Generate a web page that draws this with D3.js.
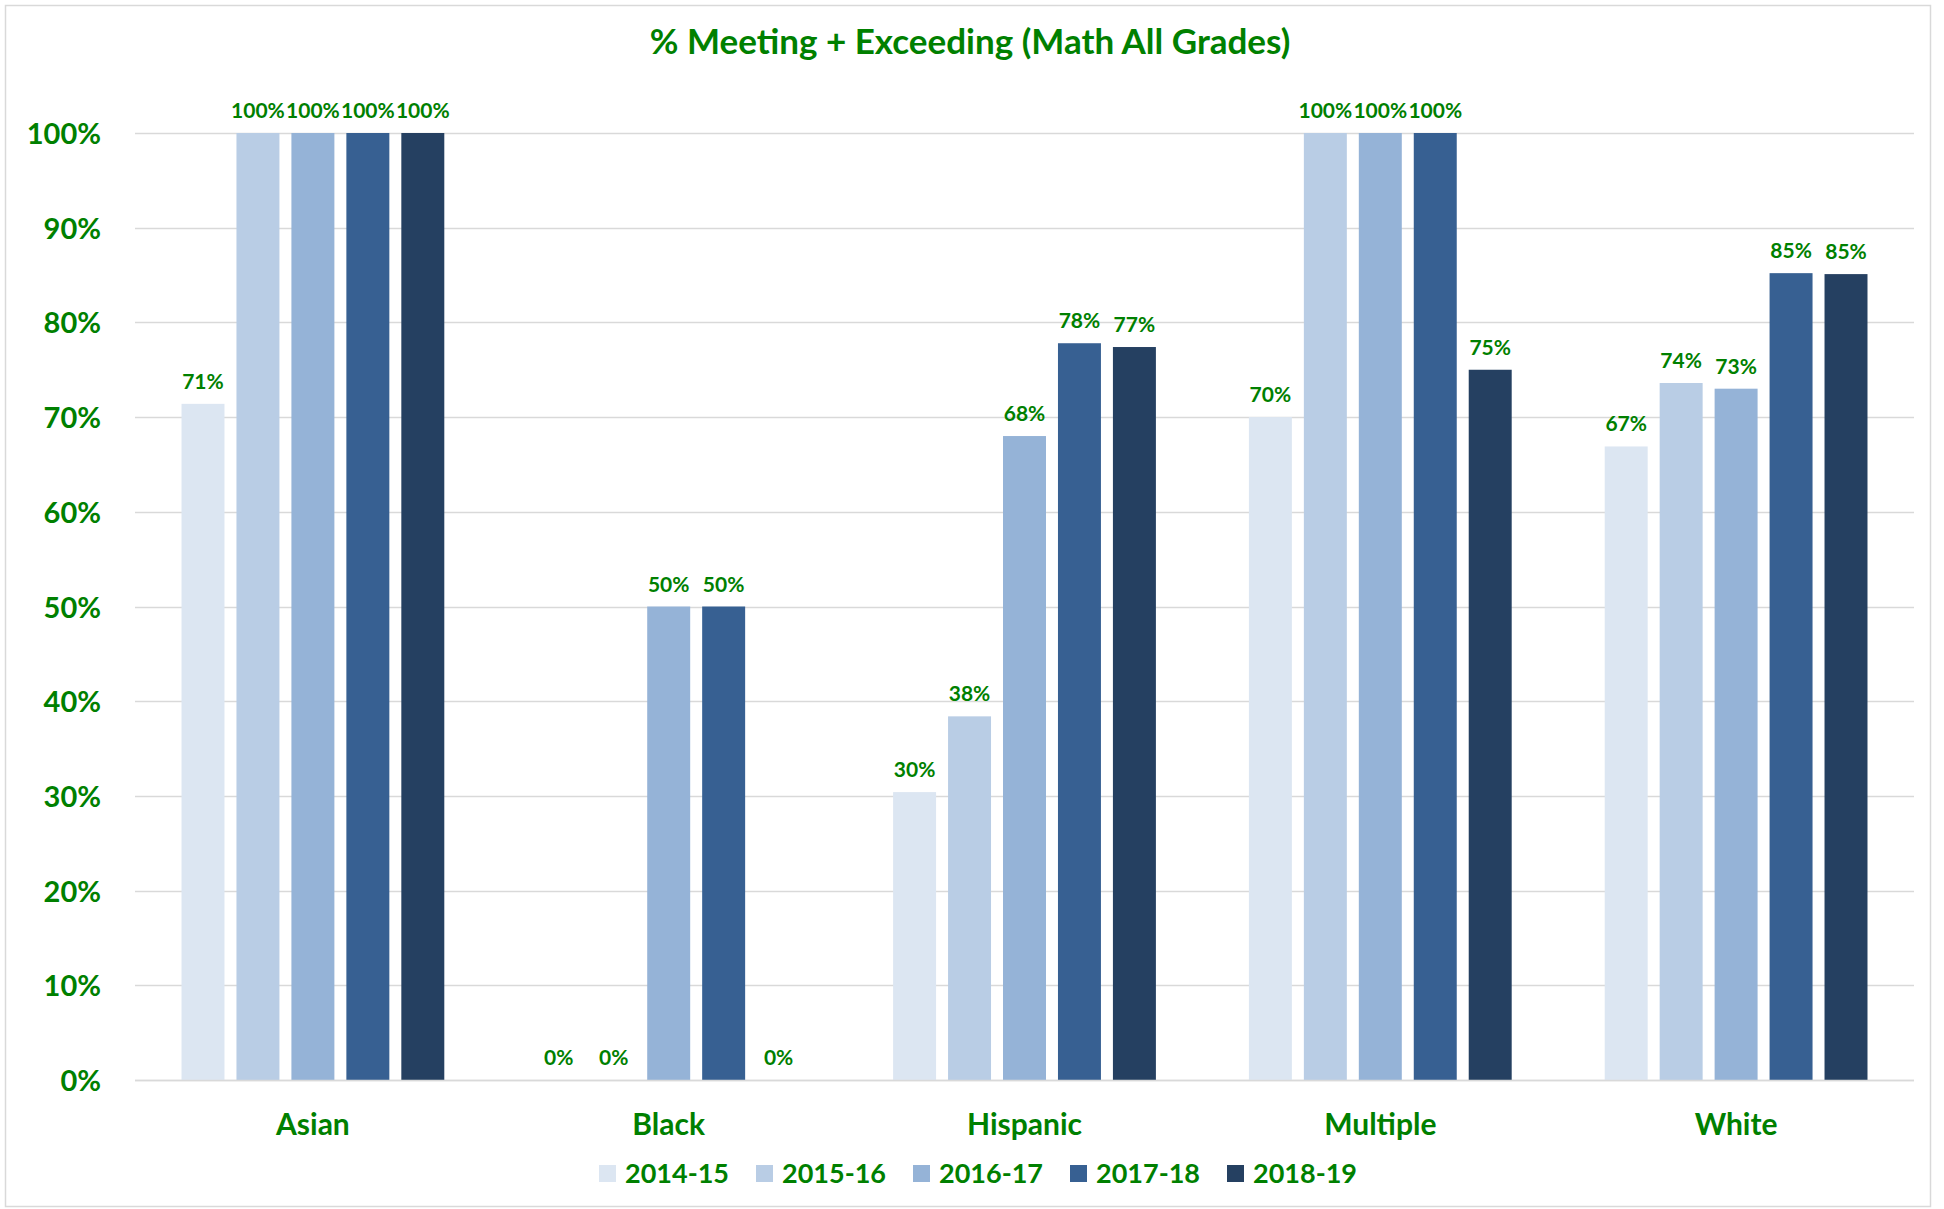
<!DOCTYPE html>
<html>
<head>
<meta charset="utf-8">
<script src="https://cdn.jsdelivr.net/npm/d3@7"></script>
<style>
  html, body { margin: 0; padding: 0; background: #ffffff; }
  svg text { font-family: Lato, "Open Sans", "Noto Sans", sans-serif; font-weight: 700; fill: #008000; }
</style>
</head>
<body>
<svg id="chart" width="1944" height="1209"></svg>
<script>
const title = "% Meeting + Exceeding (Math All Grades)";
const categories = ["Asian", "Black", "Hispanic", "Multiple", "White"];
const seriesNames = ["2014-15", "2015-16", "2016-17", "2017-18", "2018-19"];
const seriesColors = ["#DCE6F2", "#B9CDE5", "#95B3D7", "#376092", "#254061"];
// values per series, in category order
const s2014_15 = [0.714, 0.0, 0.304, 0.70, 0.669];
const s2015_16 = [1.0, 0.0, 0.384, 1.0, 0.736];
const s2016_17 = [1.0, 0.5, 0.68, 1.0, 0.730];
const s2017_18 = [1.0, 0.5, 0.778, 1.0, 0.852];
const s2018_19 = [1.0, 0.0, 0.774, 0.75, 0.851];
const seriesValues = [s2014_15, s2015_16, s2016_17, s2017_18, s2018_19];
const yTicks = [0, 0.1, 0.2, 0.3, 0.4, 0.5, 0.6, 0.7, 0.8, 0.9, 1.0];

const svg = d3.select("#chart");
const plot = { left: 135, right: 1914, top: 133, bottom: 1080 };

// chart border
svg.append("rect")
  .attr("x", 5.5).attr("y", 5.5).attr("width", 1925).attr("height", 1201)
  .attr("fill", "#ffffff").attr("stroke", "#d9d9d9").attr("stroke-width", 1.5);

const x0 = d3.scaleBand().domain(categories).range([plot.left, plot.right]).padding(0);
const outer = x0.bandwidth() * 0.1307;
const x1 = d3.scaleBand().domain(seriesNames)
  .range([outer, x0.bandwidth() - outer]).paddingInner(0.218).paddingOuter(0);
const y = d3.scaleLinear().domain([0, 1]).range([plot.bottom, plot.top]);
const pct = d3.format(".0%");

// gridlines
svg.append("g").selectAll("line").data(yTicks).join("line")
  .attr("x1", plot.left).attr("x2", plot.right)
  .attr("y1", d => Math.round(y(d)) + 0.5).attr("y2", d => Math.round(y(d)) + 0.5)
  .attr("stroke", "#d9d9d9").attr("stroke-width", 1.5);

// y axis labels
svg.append("g").selectAll("text").data(yTicks).join("text")
  .attr("x", 101).attr("y", d => y(d) + 11)
  .attr("text-anchor", "end")
  .style("font-size", "29px")
  .text(d => pct(d));

// bars
const rows = [];
categories.forEach((c, ci) => {
  seriesNames.forEach((s, si) => {
    rows.push({ cat: c, series: s, si: si, value: seriesValues[si][ci] });
  });
});

svg.append("g").selectAll("rect").data(rows).join("rect")
  .attr("x", d => x0(d.cat) + x1(d.series))
  .attr("y", d => y(d.value))
  .attr("width", x1.bandwidth())
  .attr("height", d => y(0) - y(d.value))
  .attr("fill", d => seriesColors[d.si]);

// data labels
svg.append("g").selectAll("text").data(rows).join("text")
  .attr("x", d => x0(d.cat) + x1(d.series) + x1.bandwidth() / 2)
  .attr("y", d => y(d.value) - 15)
  .attr("text-anchor", "middle")
  .style("font-size", "21px")
  .text(d => pct(d.value));

// baseline
svg.append("line")
  .attr("x1", plot.left).attr("x2", plot.right)
  .attr("y1", Math.round(y(0)) + 0.5).attr("y2", Math.round(y(0)) + 0.5)
  .attr("stroke", "#d9d9d9").attr("stroke-width", 1.5);

// category labels
svg.append("g").selectAll("text").data(categories).join("text")
  .attr("x", d => x0(d) + x0.bandwidth() / 2)
  .attr("y", 1135)
  .attr("text-anchor", "middle")
  .style("font-size", "30px")
  .text(d => d);

// title
svg.append("text")
  .attr("x", 970).attr("y", 54)
  .attr("text-anchor", "middle")
  .style("font-size", "35px")
  .text(title);

// legend
const legStep = 157, legX = 599;
const leg = svg.append("g").selectAll("g").data(seriesNames).join("g")
  .attr("transform", (d, i) => `translate(${legX + i * legStep},0)`);
leg.append("rect")
  .attr("x", 0).attr("y", 1165).attr("width", 17).attr("height", 17)
  .attr("fill", (d, i) => seriesColors[i]);
leg.append("text")
  .attr("x", 26).attr("y", 1183)
  .style("font-size", "27px")
  .text(d => d);
</script>
</body>
</html>
